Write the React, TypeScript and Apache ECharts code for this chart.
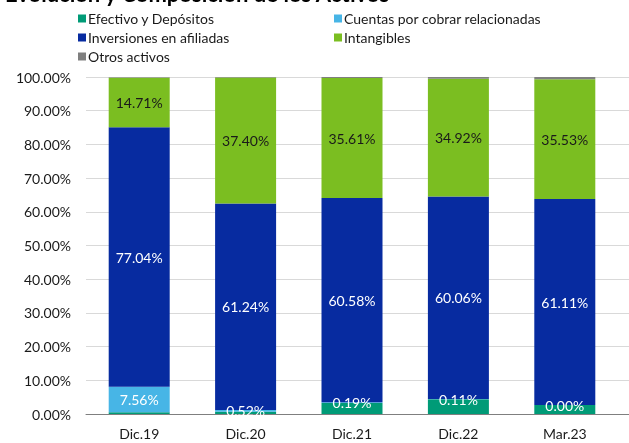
import React, { useEffect, useRef } from "react";
import * as echarts from "echarts";

const categories = ["Dic.19", "Dic.20", "Dic.21", "Dic.22", "Mar.23"];
const efectivo = [0.5, 0.7, 3.3, 4.36, 2.67];
const cuentas = [7.56, 0.52, 0.19, 0.11, 0.0];
const inversiones = [77.04, 61.24, 60.58, 60.06, 61.11];
const intangibles = [14.71, 37.4, 35.61, 34.92, 35.53];
const otros = [0.1, 0.14, 0.32, 0.55, 0.69];
const yTicks = { min: 0, max: 100, interval: 10 };

const FONT = "Lato";

export default function App() {
  const ref = useRef<HTMLDivElement>(null);
  useEffect(() => {
    if (!ref.current) return;
    const chart = echarts.init(ref.current, null, { renderer: "svg" });
    const pct = (v: number) => v.toFixed(2) + "%";
    const mk = (name: string, data: number[], color: string, label: boolean, labelColor = "#fff") => ({
      name,
      type: "bar",
      stack: "total",
      data,
      barWidth: 61,
      xAxisIndex: 0,
      yAxisIndex: 0,
      itemStyle: { color },
      label: label
        ? {
            show: true,
            position: "inside",
            color: labelColor,
            fontFamily: FONT,
            fontSize: 14,
            formatter: (p: any) => pct(p.value),
          }
        : { show: false },
    });
    const legendText = { fontFamily: FONT, fontSize: 14, color: "#1a1a1a", lineHeight: 17, padding: [0, 0, 0, -3] };
    chart.setOption({
      animation: false,
      textStyle: { fontFamily: FONT },
      title: {
        text: "Evolución y Composición de los Activos",
        left: 0,
        top: -23,
        textStyle: { fontFamily: FONT, fontSize: 22, fontWeight: "bold", color: "#000" },
      },
      legend: [
        {
          orient: "vertical",
          left: 73,
          top: 5,
          itemWidth: 8,
          itemHeight: 8,
          itemGap: 2,
          icon: "rect",
          data: ["Efectivo y Depósitos", "Inversiones en afiliadas", "Otros activos"],
          textStyle: legendText,
        },
        {
          orient: "vertical",
          left: 329,
          top: 5,
          itemWidth: 8,
          itemHeight: 8,
          itemGap: 2,
          icon: "rect",
          data: ["Cuentas por cobrar relacionadas", "Intangibles"],
          textStyle: legendText,
        },
      ],
      grid: [
        { left: 86, right: 11, top: 77, bottom: 29, containLabel: false },
        { left: 86, right: 0, top: 77, bottom: 29, containLabel: false },
      ],
      xAxis: [
        {
          type: "category",
          gridIndex: 0,
          data: categories,
          axisLine: { show: false },
          axisTick: { show: false },
          axisLabel: { fontFamily: FONT, fontSize: 14, color: "#1a1a1a", margin: 12 },
        },
        {
          type: "value",
          gridIndex: 1,
          min: 0,
          max: 1,
          axisLine: { show: true, lineStyle: { color: "#7f7f7f", width: 1 } },
          axisTick: { show: false },
          axisLabel: { show: false },
          splitLine: { show: false },
        },
      ],
      yAxis: [
        {
          type: "value",
          gridIndex: 0,
          ...yTicks,
          axisLine: { show: false },
          axisTick: { show: false },
          splitLine: { show: false },
          axisLabel: {
            fontFamily: FONT,
            fontSize: 14,
            color: "#1a1a1a",
            margin: 15,
            formatter: (v: number) => pct(v),
          },
        },
        {
          type: "value",
          gridIndex: 1,
          ...yTicks,
          axisLine: { show: false },
          axisTick: { show: false },
          axisLabel: { show: false },
          splitLine: { show: true, lineStyle: { color: "#d9d9d9", width: 1 } },
        },
      ],
      series: [
        mk("Efectivo y Depósitos", efectivo, "#009b77", false),
        mk("Cuentas por cobrar relacionadas", cuentas, "#47b5e6", true),
        mk("Inversiones en afiliadas", inversiones, "#072ba0", true),
        mk("Intangibles", intangibles, "#7bbe21", true, "#1a1a1a"),
        mk("Otros activos", otros, "#7f7f7f", false),
      ],
    });
    return () => chart.dispose();
  }, []);
  return <div ref={ref} style={{ position: "fixed", left: 0, top: 0, width: 629, height: 443 }} />;
}
